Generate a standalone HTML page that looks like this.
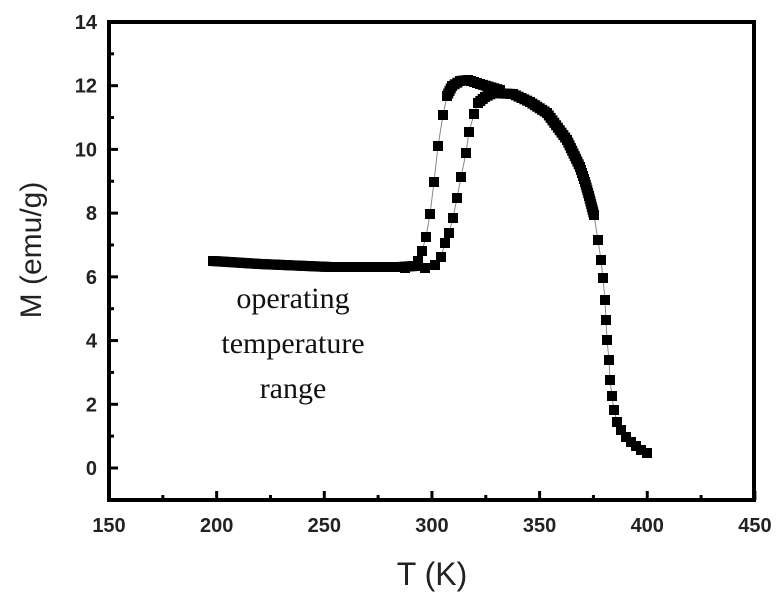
<!DOCTYPE html>
<html><head><style>body{margin:0;background:#fff}svg{display:block}</style></head><body>
<svg id="s" width="783" height="608" xmlns="http://www.w3.org/2000/svg" font-family="Liberation Sans, Arial, sans-serif">
<rect width="783" height="608" fill="#fff"/>
<g id="d"></g>
<rect x="109" y="22" width="645" height="478" fill="none" stroke="#000" stroke-width="4"/>
<g id="t" stroke="#000" stroke-width="3"></g>
<g id="l" font-weight="bold" font-size="20" fill="#222"></g>
<text x="41" y="250" font-size="30" fill="#222" text-anchor="middle" transform="rotate(-90 41 250)">M (emu/g)</text>
<text x="432" y="585" font-size="32" fill="#222" text-anchor="middle">T (K)</text>
<g font-family="Liberation Serif, serif" font-size="30" fill="#111" text-anchor="middle">
<text x="293" y="308">operating</text>
<text x="293" y="353">temperature</text>
<text x="293" y="398">range</text>
</g>
</svg>
<script>
const X=T=>109+(T-150)*2.153, Y=M=>468-M*31.86;
const t=document.getElementById('t'),l=document.getElementById('l'),d=document.getElementById('d');
let h='',lb='';
for(let T=150;T<=450;T+=25){const x=X(T),maj=T%50==0;h+=`<line x1="${x}" y1="500" x2="${x}" y2="${500-(maj?9:5)}"/>`;if(maj)lb+=`<text x="${x}" y="532" text-anchor="middle">${T}</text>`;}
for(let M=-1;M<=14;M+=1){const y=Y(M),maj=M%2==0;h+=`<line x1="109" y1="${y}" x2="${109+(maj?9:5)}" y2="${y}"/>`;if(maj&&M>=0)lb+=`<text x="97" y="${y+7}" text-anchor="end">${M}</text>`;}
t.innerHTML=h;l.innerHTML=lb;
function path(pts,step){let out=[pts[0]];for(let i=1;i<pts.length;i++){const[a,b]=[pts[i-1],pts[i]];const L=Math.hypot(b[0]-a[0],b[1]-a[1]);const n=Math.max(1,Math.round(L/step));for(let k=1;k<=n;k++)out.push([a[0]+(b[0]-a[0])*k/n,a[1]+(b[1]-a[1])*k/n]);}return out;}
let s='';
function draw(pts,w){let p=pts.map(q=>q.join(',')).join(' ');s+=`<polyline points="${p}" fill="none" stroke="#888" stroke-width="1"/>`;for(const q of pts)s+=`<rect x="${q[0]-w/2}" y="${q[1]-w/2}" width="${w}" height="${w}" fill="#000"/>`;}
const flat=path([[213,261],[260,264],[330,267],[400,267],[415,266]],2.5);
draw(flat,10);
draw([[405,268],[414,266],[418,261],[422,251],[426,237],[430,214],[434,182],[438,146],[443,115],[447,96]],10);
draw(path([[447,96],[452,86],[460,81],[468,80],[480,84],[500,90]],3),10);
draw([[425,268],[435,265],[441,257],[445,243],[449,233],[453,218],[457,198],[461,177],[466,153],[469,132],[474,114],[478,103]],10);
draw(path([[478,103],[485,97],[493,93],[513,94],[530,102],[547,113],[567,140],[580,167],[585,182],[589,196],[594,215]],3),10);
draw([[594,215],[598,240],[601,260],[603,278],[605,300],[606,320],[607,340],[609,360],[610,380],[612,396],[614,410],[617,422],[621,430],[626,437],[631,442],[636,446],[641,450],[647,453]],10);
d.innerHTML=s;
</script>
</body></html>
